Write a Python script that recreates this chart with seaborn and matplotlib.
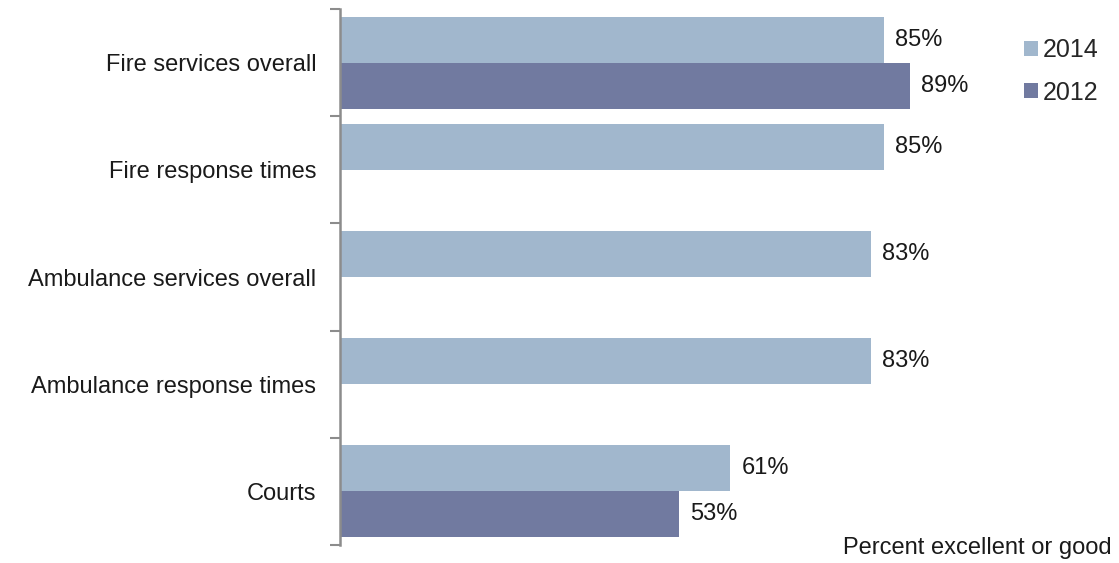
import pandas as pd
import seaborn as sns
import matplotlib.pyplot as plt
from matplotlib.ticker import FixedLocator

# Data
categories = ["Fire services overall", "Fire response times",
              "Ambulance services overall", "Ambulance response times", "Courts"]
pct_2014 = [85, 85, 83, 83, 61]
pct_2012 = [89, None, None, None, 53]
years = ["2014", "2012"]
colors = {"2014": "#A1B7CD", "2012": "#717AA0"}

df = pd.DataFrame({
    "category": categories * 2,
    "year": ["2014"] * len(categories) + ["2012"] * len(categories),
    "pct": pct_2014 + pct_2012,
})

sns.set_style("white")
plt.rcParams["font.family"] = ["Liberation Sans", "DejaVu Sans"]

fig = plt.figure(figsize=(11.19, 5.63), dpi=100)
ax = fig.add_axes([340 / 1119, 1 - 545 / 563, 640 / 1119, 536 / 563])

sns.barplot(data=df, y="category", x="pct", hue="year", hue_order=years,
            order=categories, palette=colors, orient="h", width=0.86,
            saturation=1, linewidth=0, ax=ax)

for cont in ax.containers:
    labels = ["" if pd.isna(v) else f"{v:.0f}%" for v in cont.datavalues]
    ax.bar_label(cont, labels=labels, padding=8, fontsize=17, color="#1a1a1a")

ax.set_xlim(0, 100)
ax.set_ylim(len(categories) - 0.5, -0.5)
ax.set_xlabel("")
ax.set_ylabel("")
ax.set_xticks([])

for side in ["top", "right", "bottom"]:
    ax.spines[side].set_visible(False)
ax.spines["left"].set_color("#8c8c8c")
ax.spines["left"].set_linewidth(1.8)

ax.tick_params(axis="y", which="major", length=0, pad=17, labelsize=17,
               labelcolor="#1a1a1a")
ax.yaxis.set_minor_locator(FixedLocator([i - 0.5 for i in range(len(categories) + 1)]))
ax.tick_params(axis="y", which="minor", length=7, width=1.5, color="#8c8c8c", left=True)

leg = ax.legend(loc="upper left", bbox_to_anchor=(1014 / 1119, 1 - 28 / 563),
                bbox_transform=fig.transFigure, frameon=False, fontsize=18,
                handlelength=0.55, handleheight=0.55, handletextpad=0.2,
                labelspacing=0.75, borderaxespad=0)

fig.text(1112 / 1119, 1 - 548 / 563, "Percent excellent or good",
         ha="right", va="center", fontsize=17, color="#1a1a1a")

fig.savefig("out.png", dpi=100)
